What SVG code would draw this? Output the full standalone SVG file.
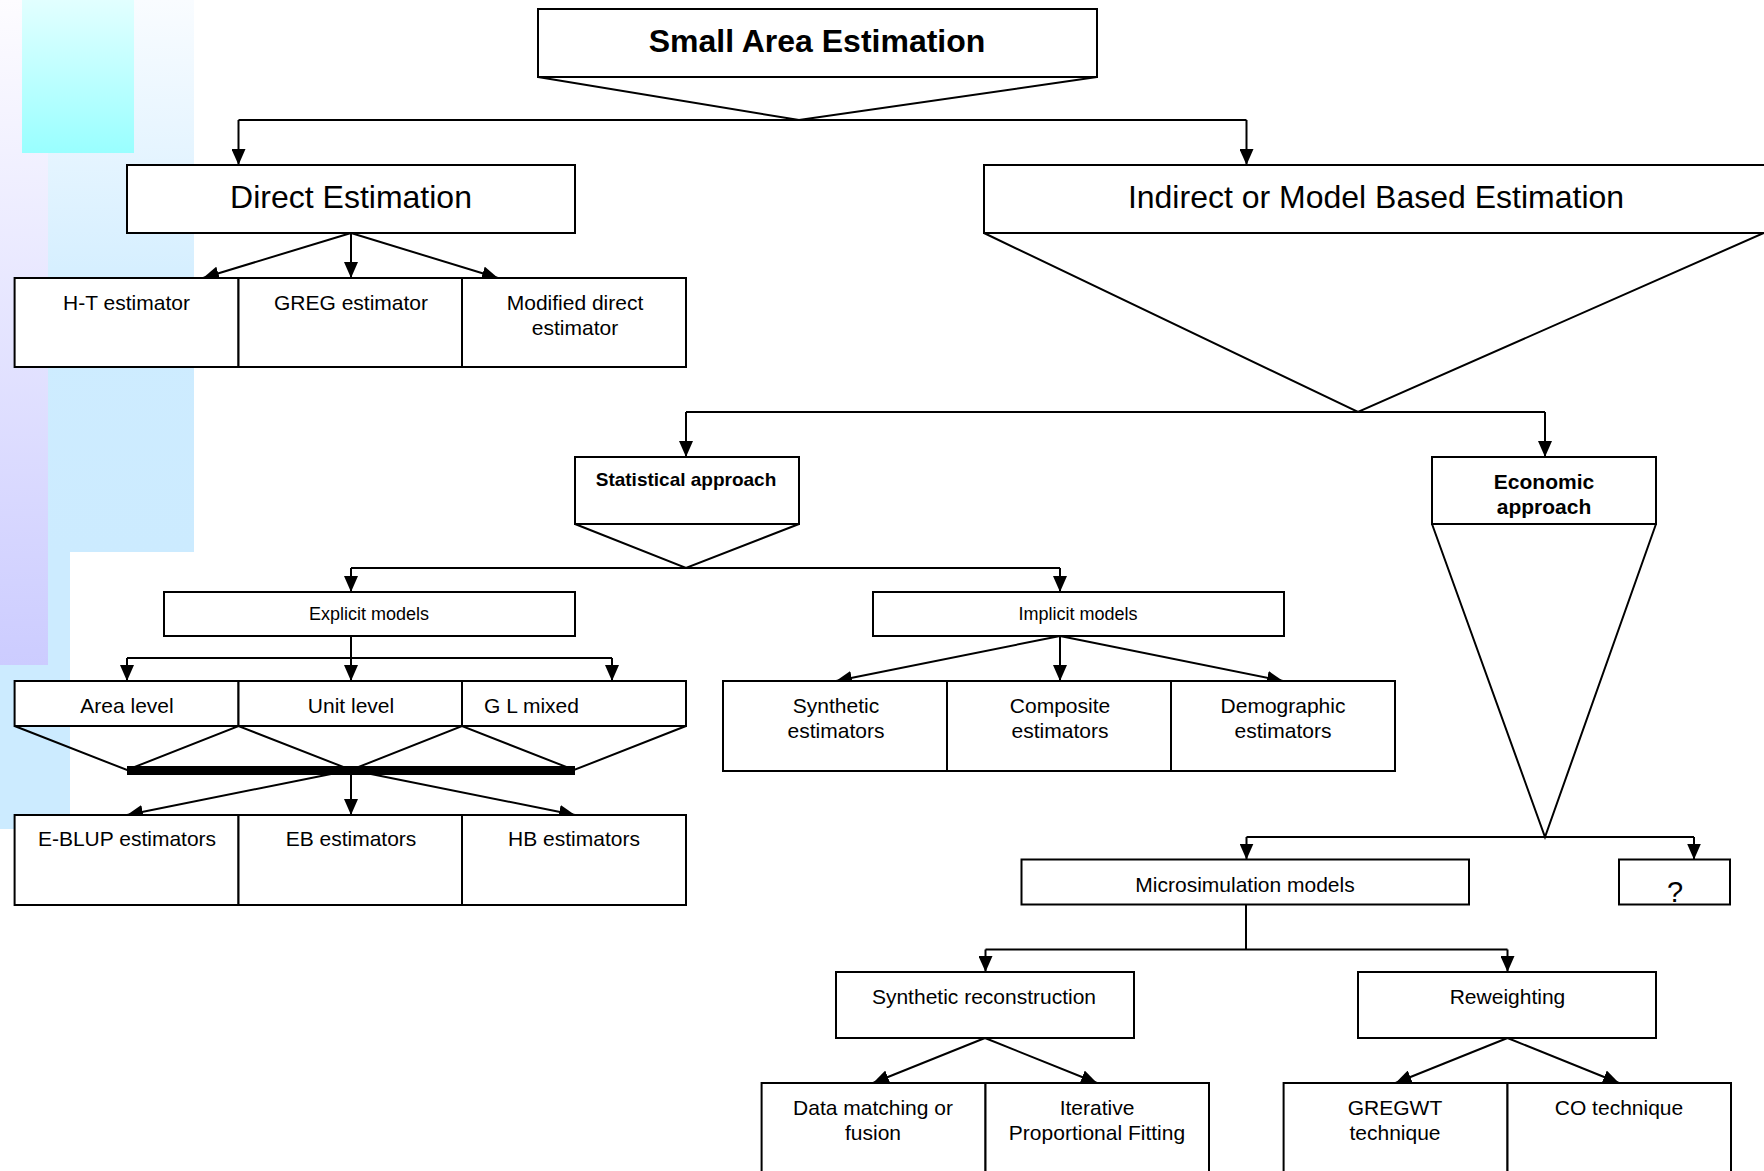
<svg xmlns="http://www.w3.org/2000/svg" width="1764" height="1171" viewBox="0 0 1764 1171">
<defs>
<linearGradient id="gBlue" x1="0" y1="0" x2="0" y2="1">
<stop offset="0" stop-color="#F9FCFF"/>
<stop offset="0.6" stop-color="#CEECFF"/>
<stop offset="1" stop-color="#CCEBFF"/>
</linearGradient>
<linearGradient id="gLav" x1="0" y1="0" x2="0" y2="1">
<stop offset="0" stop-color="#FDFCFF"/>
<stop offset="1" stop-color="#CCCCFF"/>
</linearGradient>
<linearGradient id="gCyan" x1="0" y1="0" x2="0" y2="1">
<stop offset="0" stop-color="#E2FFFF"/>
<stop offset="1" stop-color="#99FFFF"/>
</linearGradient>
<marker id="arr" markerUnits="userSpaceOnUse" viewBox="0 0 16 14" refX="16" refY="7" markerWidth="16" markerHeight="14" orient="auto">
<path d="M0,0 L16,7 L0,14 z" fill="#000"/>
</marker>
<style>
.box{fill:#fff;stroke:#000;stroke-width:2}
.ln{fill:none;stroke:#000;stroke-width:2}
.ar{fill:none;stroke:#000;stroke-width:2;marker-end:url(#arr)}
text{font-family:"Liberation Sans",Arial,sans-serif;fill:#000;text-anchor:middle}
.t21{font-size:21px}
.t18{font-size:18px}
.t32{font-size:32px}
.b32{font-size:32px;font-weight:bold}
.b19{font-size:19px;font-weight:bold}
.b21{font-size:21px;font-weight:bold}
</style>
</defs>
<rect width="1764" height="1171" fill="#fff"/>
<g id="decoration">
<rect x="0" y="0" width="194" height="552" fill="url(#gBlue)"/>
<rect x="0" y="552" width="70" height="277" fill="#CCEBFF"/>
<rect x="0" y="0" width="48" height="665" fill="url(#gLav)"/>
<rect x="22" y="0" width="112" height="153" fill="url(#gCyan)"/>
</g>
<g id="connectors">
<polyline class="ln" points="538,77 799,120 1097,77"/>
<line class="ln" x1="238.5" y1="120" x2="1246.5" y2="120"/>
<path class="ar" d="M238.5,120 V165"/>
<path class="ar" d="M1246.5,120 V165"/>
<path class="ar" d="M351,233 L203,278"/>
<path class="ar" d="M351,233 V278"/>
<path class="ar" d="M351,233 L498,278"/>
<polyline class="ln" points="984,233 1358,412 1766,232"/>
<line class="ln" x1="686" y1="412" x2="1545" y2="412"/>
<path class="ar" d="M686,412 V457"/>
<path class="ar" d="M1545,412 V457"/>
<polyline class="ln" points="575,524 686,568 799,524"/>
<line class="ln" x1="351" y1="568" x2="1060" y2="568"/>
<path class="ar" d="M351,568 V592"/>
<path class="ar" d="M1060,568 V592"/>
<line class="ln" x1="351" y1="636" x2="351" y2="658"/>
<line class="ln" x1="127" y1="658" x2="612" y2="658"/>
<path class="ar" d="M127,658 V681"/>
<path class="ar" d="M351,658 V681"/>
<path class="ar" d="M612,658 V681"/>
<polyline class="ln" points="14.6,726 127,770 238.5,726 351,770 462,726 574,770 686,726"/>
<path class="ar" d="M351,770 L127,815"/>
<path class="ar" d="M351,770 V815"/>
<path class="ar" d="M351,770 L575,815"/>
<rect x="127" y="766" width="448" height="9" fill="#000"/>
<path class="ar" d="M1060,636 L836,681"/>
<path class="ar" d="M1060,636 V681"/>
<path class="ar" d="M1060,636 L1283,681"/>
<polyline class="ln" points="1432,524 1545,837 1656,524"/>
<line class="ln" x1="1246.5" y1="837" x2="1694" y2="837"/>
<path class="ar" d="M1246.5,837 V859.5"/>
<path class="ar" d="M1694,837 V859.5"/>
<line class="ln" x1="1246" y1="904.5" x2="1246" y2="949.5"/>
<line class="ln" x1="985.5" y1="949.5" x2="1507.5" y2="949.5"/>
<path class="ar" d="M985.5,949.5 V972"/>
<path class="ar" d="M1507.5,949.5 V972"/>
<path class="ar" d="M985,1038 L873,1083"/>
<path class="ar" d="M985,1038 L1097,1083"/>
<path class="ar" d="M1507.5,1038 L1395.5,1083"/>
<path class="ar" d="M1507.5,1038 L1619,1083"/>
</g>
<g id="n-sae"><rect class="box" x="538" y="9" width="559" height="68"/><text class="b32" x="817" y="52">Small Area Estimation</text></g>
<g id="n-direct"><rect class="box" x="127" y="165" width="448" height="68"/><text class="t32" x="351" y="208">Direct Estimation</text></g>
<g id="n-indirect"><rect class="box" x="984" y="165" width="800" height="68"/><text class="t32" x="1376" y="208">Indirect or Model Based Estimation</text></g>
<g id="n-ht"><rect class="box" x="14.6" y="278" width="223.9" height="89"/><text class="t21" x="126.5" y="310">H-T estimator</text></g>
<g id="n-greg"><rect class="box" x="238.5" y="278" width="223.5" height="89"/><text class="t21" x="351" y="310">GREG estimator</text></g>
<g id="n-mod"><rect class="box" x="462" y="278" width="224" height="89"/><text class="t21" x="575" y="310">Modified direct</text><text class="t21" x="575" y="335">estimator</text></g>
<g id="n-stat"><rect class="box" x="575" y="457" width="224" height="67"/><text class="b19" x="686" y="486">Statistical approach</text></g>
<g id="n-econ"><rect class="box" x="1432" y="457" width="224" height="67"/><text class="b21" x="1544" y="489">Economic</text><text class="b21" x="1544" y="514">approach</text></g>
<g id="n-explicit"><rect class="box" x="164" y="592" width="411" height="44"/><text class="t18" x="369" y="620">Explicit models</text></g>
<g id="n-implicit"><rect class="box" x="873" y="592" width="411" height="44"/><text class="t18" x="1078" y="620">Implicit models</text></g>
<g id="n-area"><rect class="box" x="14.6" y="681" width="223.9" height="45"/><text class="t21" x="127" y="713">Area level</text></g>
<g id="n-unit"><rect class="box" x="238.5" y="681" width="223.5" height="45"/><text class="t21" x="351" y="713">Unit level</text></g>
<g id="n-glm"><rect class="box" x="462" y="681" width="224" height="45"/><text class="t21" x="484" y="713" style="text-anchor:start">G L mixed</text></g>
<g id="n-eblup"><rect class="box" x="14.6" y="815" width="223.9" height="90"/><text class="t21" x="127" y="846">E-BLUP estimators</text></g>
<g id="n-eb"><rect class="box" x="238.5" y="815" width="223.5" height="90"/><text class="t21" x="351" y="846">EB estimators</text></g>
<g id="n-hb"><rect class="box" x="462" y="815" width="224" height="90"/><text class="t21" x="574" y="846">HB estimators</text></g>
<g id="n-synth"><rect class="box" x="723" y="681" width="224" height="90"/><text class="t21" x="836" y="713">Synthetic</text><text class="t21" x="836" y="738">estimators</text></g>
<g id="n-comp"><rect class="box" x="947" y="681" width="224" height="90"/><text class="t21" x="1060" y="713">Composite</text><text class="t21" x="1060" y="738">estimators</text></g>
<g id="n-demo"><rect class="box" x="1171" y="681" width="224" height="90"/><text class="t21" x="1283" y="713">Demographic</text><text class="t21" x="1283" y="738">estimators</text></g>
<g id="n-micro"><rect class="box" x="1021.5" y="859.5" width="447.5" height="45"/><text class="t21" x="1245" y="891.5">Microsimulation models</text></g>
<g id="n-q"><rect class="box" x="1619" y="859.5" width="111" height="45"/><text class="t21" x="1675" y="902" style="font-size:29px">?</text></g>
<g id="n-synrec"><rect class="box" x="836" y="972" width="298" height="66"/><text class="t21" x="984" y="1004">Synthetic reconstruction</text></g>
<g id="n-rew"><rect class="box" x="1358" y="972" width="298" height="66"/><text class="t21" x="1507.5" y="1004">Reweighting</text></g>
<g id="n-dm"><rect class="box" x="761.6" y="1083" width="223.9" height="110"/><text class="t21" x="873" y="1115">Data matching or</text><text class="t21" x="873" y="1140">fusion</text></g>
<g id="n-ipf"><rect class="box" x="985.5" y="1083" width="223.5" height="110"/><text class="t21" x="1097" y="1115">Iterative</text><text class="t21" x="1097" y="1140">Proportional Fitting</text></g>
<g id="n-gregwt"><rect class="box" x="1283.6" y="1083" width="223.9" height="110"/><text class="t21" x="1395" y="1115">GREGWT</text><text class="t21" x="1395" y="1140">technique</text></g>
<g id="n-co"><rect class="box" x="1507.5" y="1083" width="223.5" height="110"/><text class="t21" x="1619" y="1115">CO technique</text></g>
</svg>
